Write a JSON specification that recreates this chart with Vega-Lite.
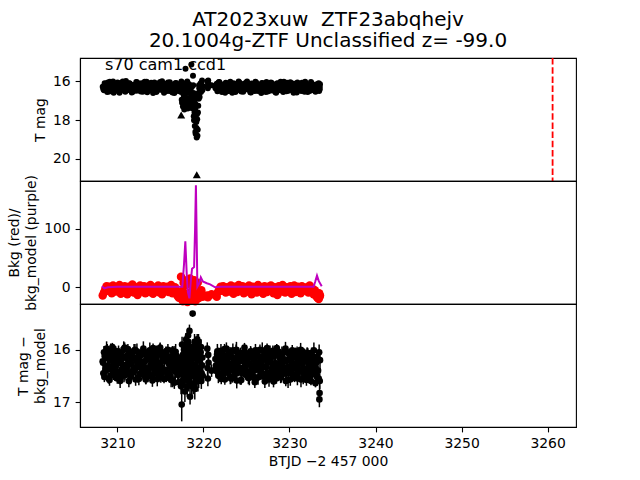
{
"$schema": "https://vega.github.io/schema/vega-lite/v6.json",
"padding": {"left": 7, "top": 9, "right": 5, "bottom": 5},
"spacing": 0,
"bounds": "flush",
"config": {
 "font": "DejaVu Sans",
 "view": {"stroke": "black", "strokeWidth": 1.1},
 "axis": {"labelFont": "DejaVu Sans", "titleFont": "DejaVu Sans", "labelFontSize": 13.9, "titleFontSize": 13.9, "titleFontWeight": "normal", "labelColor": "black", "titleColor": "black", "tickColor": "black", "domainColor": "black", "domainWidth": 1.1, "tickWidth": 1.1, "tickSize": 4.9, "labelPadding": 4.9, "titlePadding": 5, "grid": false, "labelFlush": false, "labelOverlap": false, "titleLineHeight": 17}
},
"datasets": {
 "lc": [
  {"t":3208.30,"m":16.28,"d":16.22,"e":0.09,"b":-14},
  {"t":3208.45,"m":16.45,"d":16.05,"e":0.12,"b":-9},
  {"t":3208.60,"m":16.12,"d":16.40,"e":0.10,"b":-3},
  {"t":3208.75,"m":16.36,"d":15.98,"e":0.14,"b":2},
  {"t":3208.90,"m":16.05,"d":16.31,"e":0.08,"b":-6},
  {"t":3209.05,"m":16.52,"d":16.15,"e":0.11,"b":1},
  {"t":3209.20,"m":16.21,"d":16.50,"e":0.13,"b":-4},
  {"t":3209.35,"m":16.40,"d":16.08,"e":0.10,"b":-10},
  {"t":3209.50,"m":16.00,"d":16.36,"e":0.12,"b":3},
  {"t":3209.65,"m":16.33,"d":16.19,"e":0.09,"b":-2},
  {"t":3209.80,"m":16.48,"d":16.02,"e":0.09,"b":-7},
  {"t":3209.95,"m":16.15,"d":16.45,"e":0.12,"b":0},
  {"t":3210.10,"m":16.27,"d":16.26,"e":0.10,"b":-5},
  {"t":3210.25,"m":16.58,"d":16.11,"e":0.14,"b":4},
  {"t":3210.40,"m":16.08,"d":16.53,"e":0.08,"b":-11},
  {"t":3210.55,"m":16.37,"d":16.17,"e":0.11,"b":-1},
  {"t":3210.70,"m":16.22,"d":16.34,"e":0.13,"b":-8},
  {"t":3210.85,"m":16.50,"d":15.96,"e":0.10,"b":2},
  {"t":3211.00,"m":15.98,"d":16.29,"e":0.12,"b":-3},
  {"t":3211.15,"m":16.30,"d":16.42,"e":0.09,"b":-12},
  {"t":3211.30,"m":16.43,"d":16.07,"e":0.09,"b":1},
  {"t":3211.45,"m":16.11,"d":16.24,"e":0.12,"b":-6},
  {"t":3211.60,"m":16.26,"d":16.48,"e":0.10,"b":-2},
  {"t":3211.75,"m":16.55,"d":16.13,"e":0.14,"b":5},
  {"t":3211.90,"m":16.18,"d":16.38,"e":0.08,"b":-9},
  {"t":3212.05,"m":16.39,"d":16.00,"e":0.11,"b":-4},
  {"t":3212.20,"m":16.03,"d":16.33,"e":0.13,"b":0},
  {"t":3212.35,"m":16.47,"d":16.20,"e":0.10,"b":-13},
  {"t":3212.50,"m":16.24,"d":16.56,"e":0.12,"b":-1},
  {"t":3212.65,"m":16.34,"d":16.10,"e":0.09,"b":3},
  {"t":3212.80,"m":16.09,"d":16.27,"e":0.09,"b":-7},
  {"t":3212.95,"m":16.53,"d":16.43,"e":0.12,"b":-3},
  {"t":3213.10,"m":16.19,"d":16.04,"e":0.10,"b":2},
  {"t":3213.25,"m":16.41,"d":16.35,"e":0.14,"b":-10},
  {"t":3213.40,"m":16.01,"d":16.18,"e":0.08,"b":-5},
  {"t":3213.55,"m":16.29,"d":16.51,"e":0.11,"b":1},
  {"t":3213.70,"m":16.46,"d":16.09,"e":0.13,"b":-8},
  {"t":3213.85,"m":16.14,"d":16.30,"e":0.10,"b":4},
  {"t":3214.00,"m":16.35,"d":16.23,"e":0.12,"b":-2},
  {"t":3214.15,"m":16.60,"d":15.97,"e":0.09,"b":-11},
  {"t":3214.30,"m":16.06,"d":16.46,"e":0.09,"b":-4},
  {"t":3214.45,"m":16.31,"d":16.14,"e":0.12,"b":0},
  {"t":3214.60,"m":16.49,"d":16.37,"e":0.10,"b":-6},
  {"t":3214.75,"m":16.17,"d":16.06,"e":0.14,"b":3},
  {"t":3214.90,"m":16.25,"d":16.28,"e":0.08,"b":-9},
  {"t":3215.05,"m":16.42,"d":16.52,"e":0.11,"b":-1},
  {"t":3215.20,"m":15.99,"d":16.12,"e":0.13,"b":-12},
  {"t":3215.35,"m":16.38,"d":16.39,"e":0.10,"b":2},
  {"t":3215.50,"m":16.13,"d":16.21,"e":0.12,"b":-5},
  {"t":3215.65,"m":16.51,"d":16.03,"e":0.09,"b":-3},
  {"t":3215.80,"m":16.23,"d":16.44,"e":0.09,"b":1},
  {"t":3215.95,"m":16.44,"d":16.16,"e":0.12,"b":-8},
  {"t":3216.10,"m":16.04,"d":16.32,"e":0.10,"b":-2},
  {"t":3216.25,"m":16.32,"d":16.58,"e":0.14,"b":4},
  {"t":3216.40,"m":16.57,"d":16.01,"e":0.08,"b":-10},
  {"t":3216.55,"m":16.16,"d":16.25,"e":0.11,"b":-4},
  {"t":3216.70,"m":16.37,"d":16.41,"e":0.13,"b":0},
  {"t":3216.85,"m":16.10,"d":16.11,"e":0.10,"b":-7},
  {"t":3217.00,"m":16.45,"d":16.34,"e":0.12,"b":-15},
  {"t":3217.15,"m":16.27,"d":16.62,"e":0.09,"b":-18},
  {"t":3217.30,"m":16.20,"d":16.19,"e":0.09,"b":-12},
  {"t":3217.40,"m":16.55,"d":16.70,"e":0.15,"b":18},
  {"t":3217.48,"m":16.95,"d":17.05,"e":0.32,"b":-20},
  {"t":3217.55,"m":16.25,"d":16.35,"e":0.12,"b":-6},
  {"t":3217.62,"m":17.30,"d":16.10,"e":0.15,"b":-24},
  {"t":3217.70,"m":16.70,"d":16.55,"e":0.18,"b":8},
  {"t":3217.78,"m":17.45,"d":15.95,"e":0.15,"b":-14},
  {"t":3217.85,"m":16.40,"d":16.80,"e":0.20,"b":-22},
  {"t":3217.92,"m":15.35,"d":16.25,"e":0.12,"b":4},
  {"t":3218.00,"m":16.85,"d":15.80,"e":0.12,"b":-18},
  {"t":3218.08,"m":17.15,"d":16.40,"e":0.18,"b":12},
  {"t":3218.15,"m":16.30,"d":16.00,"e":0.15,"b":-25},
  {"t":3218.22,"m":16.60,"d":15.73,"e":0.15,"b":-10},
  {"t":3218.30,"m":17.20,"d":16.60,"e":0.20,"b":6},
  {"t":3218.38,"m":16.90,"d":15.64,"e":0.12,"b":-20},
  {"t":3218.45,"m":16.45,"d":16.90,"e":0.15,"b":15},
  {"t":3218.52,"m":17.00,"d":16.20,"e":0.15,"b":-8},
  {"t":3218.60,"m":15.13,"d":16.50,"e":0.18,"b":-16},
  {"t":3218.67,"m":16.75,"d":16.05,"e":0.15,"b":10},
  {"t":3218.75,"m":17.40,"d":15.31,"e":0.05,"b":-22},
  {"t":3218.82,"m":16.20,"d":16.65,"e":0.20,"b":-4},
  {"t":3218.88,"m":17.80,"d":16.30,"e":0.15,"b":-18},
  {"t":3218.94,"m":17.10,"d":16.06,"e":0.12,"b":12},
  {"t":3219.00,"m":18.30,"d":16.75,"e":0.20,"b":-12},
  {"t":3219.05,"m":17.50,"d":15.90,"e":0.12,"b":-24},
  {"t":3219.10,"m":18.70,"d":16.45,"e":0.15,"b":3},
  {"t":3219.15,"m":16.70,"d":16.15,"e":0.12,"b":-17},
  {"t":3219.18,"m":18.10,"d":16.35,"e":0.15,"b":-9},
  {"t":3219.22,"m":18.90,"d":16.60,"e":0.20,"b":-8},
  {"t":3219.25,"m":17.70,"d":16.10,"e":0.12,"b":-15},
  {"t":3219.28,"m":17.95,"d":15.80,"e":0.10,"b":-20},
  {"t":3219.34,"m":18.50,"d":16.35,"e":0.15,"b":8},
  {"t":3219.40,"m":17.25,"d":16.00,"e":0.15,"b":-14},
  {"t":3219.46,"m":16.90,"d":16.55,"e":0.18,"b":-6},
  {"t":3219.52,"m":16.35,"d":16.20,"e":0.15,"b":-18},
  {"t":3219.60,"m":16.55,"d":16.40,"e":0.15,"b":-10},
  {"t":3219.68,"m":16.10,"d":16.05,"e":0.12,"b":-15},
  {"t":3219.76,"m":16.40,"d":16.60,"e":0.15,"b":-5},
  {"t":3219.84,"m":15.95,"d":16.30,"e":0.12,"b":-12},
  {"t":3219.92,"m":16.25,"d":16.50,"e":0.15,"b":-16},
  {"t":3220.45,"m":16.00,"d":15.98,"e":0.12,"b":-14},
  {"t":3220.52,"m":16.35,"d":16.55,"e":0.15,"b":-17},
  {"t":3220.60,"m":16.15,"d":16.25,"e":0.12,"b":-15},
  {"t":3220.95,"m":16.20,"d":16.40,"e":0.12,"b":-12},
  {"t":3221.40,"m":16.35,"d":16.18,"e":0.09,"b":-13},
  {"t":3221.55,"m":16.12,"d":16.41,"e":0.12,"b":-16},
  {"t":3221.70,"m":16.47,"d":16.06,"e":0.10,"b":-8},
  {"t":3221.85,"m":16.03,"d":16.33,"e":0.14,"b":-3},
  {"t":3222.00,"m":16.28,"d":16.52,"e":0.08,"b":1},
  {"t":3222.15,"m":16.54,"d":16.12,"e":0.11,"b":-6},
  {"t":3222.30,"m":16.18,"d":16.27,"e":0.13,"b":2},
  {"t":3222.45,"m":16.40,"d":15.99,"e":0.10,"b":-4},
  {"t":3222.60,"m":16.07,"d":16.44,"e":0.12,"b":-9},
  {"t":3222.75,"m":16.31,"d":16.21,"e":0.09,"b":0},
  {"t":3222.90,"m":16.49,"d":16.08,"e":0.09,"b":-2},
  {"t":3223.05,"m":16.14,"d":16.36,"e":0.12,"b":-7},
  {"t":3223.20,"m":16.25,"d":16.55,"e":0.10,"b":3},
  {"t":3223.35,"m":16.58,"d":16.15,"e":0.14,"b":-5},
  {"t":3223.50,"m":16.10,"d":16.30,"e":0.08,"b":-11},
  {"t":3223.65,"m":16.37,"d":16.47,"e":0.11,"b":1},
  {"t":3223.80,"m":16.21,"d":16.03,"e":0.13,"b":-3},
  {"t":3223.95,"m":16.44,"d":16.25,"e":0.10,"b":-8},
  {"t":3224.10,"m":16.00,"d":16.39,"e":0.12,"b":4},
  {"t":3224.25,"m":16.33,"d":16.11,"e":0.09,"b":-1},
  {"t":3224.40,"m":16.52,"d":16.58,"e":0.09,"b":-6},
  {"t":3224.55,"m":16.16,"d":16.19,"e":0.12,"b":2},
  {"t":3224.70,"m":16.29,"d":16.34,"e":0.10,"b":-10},
  {"t":3224.85,"m":16.42,"d":16.05,"e":0.14,"b":-4},
  {"t":3225.00,"m":16.05,"d":16.43,"e":0.08,"b":0},
  {"t":3225.15,"m":16.38,"d":16.23,"e":0.11,"b":-7},
  {"t":3225.30,"m":16.23,"d":16.50,"e":0.13,"b":3},
  {"t":3225.45,"m":16.56,"d":16.09,"e":0.10,"b":-2},
  {"t":3225.60,"m":16.11,"d":16.31,"e":0.12,"b":-12},
  {"t":3225.75,"m":16.34,"d":16.16,"e":0.09,"b":1},
  {"t":3225.90,"m":16.46,"d":16.40,"e":0.09,"b":-5},
  {"t":3226.05,"m":16.02,"d":16.01,"e":0.12,"b":-1},
  {"t":3226.20,"m":16.27,"d":16.28,"e":0.10,"b":-9},
  {"t":3226.35,"m":16.50,"d":16.53,"e":0.14,"b":4},
  {"t":3226.50,"m":16.19,"d":16.13,"e":0.08,"b":-3},
  {"t":3226.65,"m":16.36,"d":16.37,"e":0.11,"b":-7},
  {"t":3226.80,"m":16.08,"d":16.22,"e":0.13,"b":0},
  {"t":3226.95,"m":16.43,"d":16.46,"e":0.10,"b":-11},
  {"t":3227.10,"m":16.24,"d":16.07,"e":0.12,"b":2},
  {"t":3227.25,"m":16.55,"d":16.32,"e":0.09,"b":-4},
  {"t":3227.40,"m":16.13,"d":15.97,"e":0.09,"b":-8},
  {"t":3227.55,"m":16.32,"d":16.24,"e":0.12,"b":1},
  {"t":3227.70,"m":16.48,"d":16.49,"e":0.10,"b":-6},
  {"t":3227.85,"m":16.06,"d":16.14,"e":0.14,"b":3},
  {"t":3228.00,"m":16.30,"d":16.35,"e":0.08,"b":-2},
  {"t":3228.15,"m":16.41,"d":16.61,"e":0.11,"b":-10},
  {"t":3228.30,"m":16.17,"d":16.10,"e":0.13,"b":0},
  {"t":3228.45,"m":16.59,"d":16.29,"e":0.10,"b":-5},
  {"t":3228.60,"m":16.09,"d":16.42,"e":0.12,"b":-13},
  {"t":3228.75,"m":16.26,"d":16.04,"e":0.09,"b":2},
  {"t":3228.90,"m":16.45,"d":16.26,"e":0.09,"b":-3},
  {"t":3229.05,"m":16.15,"d":16.51,"e":0.12,"b":-7},
  {"t":3229.20,"m":16.38,"d":16.17,"e":0.10,"b":4},
  {"t":3229.35,"m":16.01,"d":16.38,"e":0.14,"b":-1},
  {"t":3229.50,"m":16.33,"d":16.02,"e":0.08,"b":-9},
  {"t":3229.65,"m":16.51,"d":16.45,"e":0.11,"b":0},
  {"t":3229.80,"m":16.20,"d":16.20,"e":0.13,"b":-4},
  {"t":3229.95,"m":16.39,"d":16.33,"e":0.10,"b":-6},
  {"t":3230.10,"m":16.04,"d":16.57,"e":0.12,"b":2},
  {"t":3230.25,"m":16.28,"d":16.12,"e":0.09,"b":-11},
  {"t":3230.40,"m":16.47,"d":16.30,"e":0.09,"b":-2},
  {"t":3230.55,"m":16.12,"d":16.48,"e":0.12,"b":3},
  {"t":3230.70,"m":16.35,"d":16.06,"e":0.10,"b":-8},
  {"t":3230.85,"m":16.57,"d":16.36,"e":0.14,"b":-5},
  {"t":3231.00,"m":16.18,"d":16.23,"e":0.08,"b":1},
  {"t":3231.15,"m":16.25,"d":16.41,"e":0.11,"b":-3},
  {"t":3231.30,"m":16.43,"d":16.00,"e":0.13,"b":-10},
  {"t":3231.45,"m":16.07,"d":16.27,"e":0.10,"b":2},
  {"t":3231.60,"m":16.31,"d":16.54,"e":0.12,"b":-6},
  {"t":3231.75,"m":16.53,"d":16.15,"e":0.09,"b":-1},
  {"t":3231.90,"m":16.14,"d":16.39,"e":0.09,"b":-4},
  {"t":3232.05,"m":16.37,"d":16.08,"e":0.12,"b":0},
  {"t":3232.20,"m":16.22,"d":16.44,"e":0.10,"b":-9},
  {"t":3232.35,"m":16.49,"d":16.21,"e":0.14,"b":3},
  {"t":3232.50,"m":16.03,"d":16.60,"e":0.08,"b":-7},
  {"t":3232.65,"m":16.34,"d":16.13,"e":0.11,"b":-2},
  {"t":3232.80,"m":16.45,"d":16.34,"e":0.13,"b":-12},
  {"t":3232.95,"m":16.19,"d":16.47,"e":0.10,"b":-5},
  {"t":3233.10,"m":16.29,"d":16.25,"e":0.12,"b":-15},
  {"t":3233.25,"m":16.40,"d":16.40,"e":0.09,"b":-18},
  {"t":3233.40,"m":16.10,"d":16.55,"e":0.09,"b":-20},
  {"t":3233.45,"m":16.50,"d":16.05,"e":0.15,"b":-10},
  {"t":3233.50,"m":16.30,"d":16.83,"e":0.15,"b":-16},
  {"t":3233.55,"m":16.15,"d":16.20,"e":0.20,"b":-14}
 ],
 "lc2": [
  {"t":3208.375,"m":16.40,"d":16.45,"e":0.11},
  {"t":3208.525,"m":16.10,"d":16.12,"e":0.14},
  {"t":3208.675,"m":16.31,"d":16.33,"e":0.09},
  {"t":3208.825,"m":16.55,"d":16.02,"e":0.13},
  {"t":3208.975,"m":16.20,"d":16.55,"e":0.10},
  {"t":3209.125,"m":16.02,"d":16.20,"e":0.12},
  {"t":3209.275,"m":16.46,"d":16.38,"e":0.15},
  {"t":3209.425,"m":16.27,"d":15.95,"e":0.08},
  {"t":3209.575,"m":16.59,"d":16.27,"e":0.12},
  {"t":3209.725,"m":16.13,"d":16.50,"e":0.10},
  {"t":3209.875,"m":16.36,"d":16.09,"e":0.11},
  {"t":3210.025,"m":16.06,"d":16.42,"e":0.14},
  {"t":3210.175,"m":16.50,"d":16.18,"e":0.09},
  {"t":3210.325,"m":16.22,"d":16.60,"e":0.13},
  {"t":3210.475,"m":16.41,"d":16.05,"e":0.10},
  {"t":3210.625,"m":16.00,"d":16.31,"e":0.12},
  {"t":3210.775,"m":16.29,"d":16.47,"e":0.15},
  {"t":3210.925,"m":16.53,"d":16.14,"e":0.08},
  {"t":3211.075,"m":16.16,"d":16.36,"e":0.12},
  {"t":3211.225,"m":16.44,"d":15.99,"e":0.10},
  {"t":3211.375,"m":16.09,"d":16.24,"e":0.11},
  {"t":3211.525,"m":16.34,"d":16.52,"e":0.14},
  {"t":3211.675,"m":16.57,"d":16.07,"e":0.09},
  {"t":3211.825,"m":16.19,"d":16.40,"e":0.13},
  {"t":3211.975,"m":16.26,"d":16.16,"e":0.10},
  {"t":3212.125,"m":16.48,"d":16.57,"e":0.12},
  {"t":3212.275,"m":16.04,"d":16.03,"e":0.15},
  {"t":3212.425,"m":16.38,"d":16.29,"e":0.08},
  {"t":3212.575,"m":16.12,"d":16.46,"e":0.12},
  {"t":3212.725,"m":16.52,"d":16.11,"e":0.10},
  {"t":3212.875,"m":16.23,"d":16.35,"e":0.11},
  {"t":3213.025,"m":16.45,"d":15.98,"e":0.14},
  {"t":3213.175,"m":16.01,"d":16.22,"e":0.09},
  {"t":3213.325,"m":16.32,"d":16.53,"e":0.13},
  {"t":3213.475,"m":16.56,"d":16.13,"e":0.10},
  {"t":3213.625,"m":16.15,"d":16.44,"e":0.12},
  {"t":3213.775,"m":16.39,"d":16.01,"e":0.15},
  {"t":3213.925,"m":16.07,"d":16.32,"e":0.08},
  {"t":3214.075,"m":16.47,"d":16.59,"e":0.12},
  {"t":3214.225,"m":16.21,"d":16.17,"e":0.10},
  {"t":3214.375,"m":16.30,"d":16.39,"e":0.11},
  {"t":3214.525,"m":16.54,"d":16.06,"e":0.14},
  {"t":3214.675,"m":16.11,"d":16.26,"e":0.09},
  {"t":3214.825,"m":16.37,"d":16.49,"e":0.13},
  {"t":3214.975,"m":16.03,"d":15.96,"e":0.10},
  {"t":3215.125,"m":16.43,"d":16.34,"e":0.12},
  {"t":3215.275,"m":16.25,"d":16.21,"e":0.15},
  {"t":3215.425,"m":16.58,"d":16.56,"e":0.08},
  {"t":3215.575,"m":16.14,"d":16.10,"e":0.12},
  {"t":3215.725,"m":16.35,"d":16.43,"e":0.10},
  {"t":3215.875,"m":16.05,"d":16.00,"e":0.11},
  {"t":3216.025,"m":16.49,"d":16.28,"e":0.14},
  {"t":3216.175,"m":16.18,"d":16.51,"e":0.09},
  {"t":3216.325,"m":16.42,"d":16.15,"e":0.13},
  {"t":3216.475,"m":16.28,"d":16.37,"e":0.10},
  {"t":3216.625,"m":16.60,"d":16.63,"e":0.12},
  {"t":3216.775,"m":16.08,"d":16.04,"e":0.15},
  {"t":3216.925,"m":16.33,"d":16.30,"e":0.08},
  {"t":3217.075,"m":16.50,"d":16.48,"e":0.12},
  {"t":3217.225,"m":16.24,"d":16.19,"e":0.10},
  {"t":3217.44,"m":16.00,"d":16.40,"e":0.20},
  {"t":3217.52,"m":17.10,"d":15.90,"e":0.15},
  {"t":3217.58,"m":16.50,"d":16.60,"e":0.20},
  {"t":3217.66,"m":16.10,"d":16.30,"e":0.15},
  {"t":3217.74,"m":17.00,"d":16.00,"e":0.15},
  {"t":3217.82,"m":16.80,"d":16.50,"e":0.20},
  {"t":3217.88,"m":16.20,"d":16.10,"e":0.15},
  {"t":3217.96,"m":17.30,"d":16.45,"e":0.20},
  {"t":3218.04,"m":16.50,"d":16.20,"e":0.15},
  {"t":3218.12,"m":16.00,"d":16.70,"e":0.20},
  {"t":3218.18,"m":17.40,"d":15.85,"e":0.15},
  {"t":3218.26,"m":16.90,"d":16.30,"e":0.15},
  {"t":3218.34,"m":16.15,"d":16.10,"e":0.20},
  {"t":3218.42,"m":17.20,"d":16.50,"e":0.15},
  {"t":3218.48,"m":16.60,"d":15.95,"e":0.15},
  {"t":3218.56,"m":17.35,"d":16.35,"e":0.20},
  {"t":3218.64,"m":16.30,"d":16.70,"e":0.20},
  {"t":3218.71,"m":16.85,"d":16.00,"e":0.15},
  {"t":3218.79,"m":15.70,"d":16.40,"e":0.15},
  {"t":3218.86,"m":16.60,"d":16.15,"e":0.15},
  {"t":3218.91,"m":18.00,"d":16.50,"e":0.20},
  {"t":3218.97,"m":17.60,"d":15.85,"e":0.15},
  {"t":3219.02,"m":16.90,"d":16.30,"e":0.20},
  {"t":3219.07,"m":18.60,"d":16.05,"e":0.15},
  {"t":3219.12,"m":17.30,"d":16.60,"e":0.20},
  {"t":3219.20,"m":18.40,"d":15.95,"e":0.15},
  {"t":3219.27,"m":16.80,"d":16.45,"e":0.20},
  {"t":3219.31,"m":18.80,"d":16.20,"e":0.15},
  {"t":3219.37,"m":17.60,"d":16.60,"e":0.20},
  {"t":3219.43,"m":16.60,"d":15.85,"e":0.15},
  {"t":3219.49,"m":16.20,"d":16.40,"e":0.20},
  {"t":3219.56,"m":16.80,"d":16.10,"e":0.15},
  {"t":3219.64,"m":16.30,"d":16.50,"e":0.15},
  {"t":3219.72,"m":16.55,"d":15.95,"e":0.15},
  {"t":3219.80,"m":16.20,"d":16.45,"e":0.15},
  {"t":3219.88,"m":16.45,"d":16.15,"e":0.15},
  {"t":3220.48,"m":16.25,"d":16.35,"e":0.15},
  {"t":3220.56,"m":15.95,"d":16.10,"e":0.15},
  {"t":3221.475,"m":16.22,"d":16.30,"e":0.11},
  {"t":3221.625,"m":16.51,"d":16.03,"e":0.14},
  {"t":3221.775,"m":16.04,"d":16.48,"e":0.09},
  {"t":3221.925,"m":16.36,"d":16.17,"e":0.13},
  {"t":3222.075,"m":16.15,"d":16.56,"e":0.10},
  {"t":3222.225,"m":16.44,"d":16.09,"e":0.12},
  {"t":3222.375,"m":16.27,"d":16.37,"e":0.15},
  {"t":3222.525,"m":16.58,"d":16.24,"e":0.08},
  {"t":3222.675,"m":16.09,"d":15.98,"e":0.12},
  {"t":3222.825,"m":16.33,"d":16.43,"e":0.10},
  {"t":3222.975,"m":16.48,"d":16.14,"e":0.11},
  {"t":3223.125,"m":16.02,"d":16.52,"e":0.14},
  {"t":3223.275,"m":16.25,"d":16.27,"e":0.09},
  {"t":3223.425,"m":16.40,"d":16.01,"e":0.13},
  {"t":3223.575,"m":16.13,"d":16.40,"e":0.10},
  {"t":3223.725,"m":16.55,"d":16.20,"e":0.12},
  {"t":3223.875,"m":16.19,"d":16.59,"e":0.15},
  {"t":3224.025,"m":16.31,"d":16.11,"e":0.08},
  {"t":3224.175,"m":16.06,"d":16.34,"e":0.12},
  {"t":3224.325,"m":16.46,"d":16.06,"e":0.10},
  {"t":3224.475,"m":16.28,"d":16.45,"e":0.11},
  {"t":3224.625,"m":16.53,"d":16.22,"e":0.14},
  {"t":3224.775,"m":16.11,"d":15.96,"e":0.09},
  {"t":3224.925,"m":16.38,"d":16.38,"e":0.13},
  {"t":3225.075,"m":16.00,"d":16.13,"e":0.10},
  {"t":3225.225,"m":16.42,"d":16.54,"e":0.12},
  {"t":3225.375,"m":16.20,"d":16.29,"e":0.15},
  {"t":3225.525,"m":16.57,"d":16.04,"e":0.08},
  {"t":3225.675,"m":16.14,"d":16.47,"e":0.12},
  {"t":3225.825,"m":16.34,"d":16.18,"e":0.10},
  {"t":3225.975,"m":16.49,"d":16.62,"e":0.11},
  {"t":3226.125,"m":16.05,"d":16.10,"e":0.14},
  {"t":3226.275,"m":16.30,"d":16.35,"e":0.09},
  {"t":3226.425,"m":16.45,"d":16.25,"e":0.13},
  {"t":3226.575,"m":16.17,"d":16.00,"e":0.10},
  {"t":3226.725,"m":16.60,"d":16.44,"e":0.12},
  {"t":3226.875,"m":16.10,"d":16.16,"e":0.15},
  {"t":3227.025,"m":16.26,"d":16.51,"e":0.08},
  {"t":3227.175,"m":16.39,"d":16.07,"e":0.12},
  {"t":3227.325,"m":16.03,"d":16.32,"e":0.10},
  {"t":3227.475,"m":16.52,"d":16.21,"e":0.11},
  {"t":3227.625,"m":16.21,"d":16.57,"e":0.14},
  {"t":3227.775,"m":16.35,"d":16.12,"e":0.09},
  {"t":3227.925,"m":16.08,"d":16.39,"e":0.13},
  {"t":3228.075,"m":16.47,"d":16.02,"e":0.10},
  {"t":3228.225,"m":16.24,"d":16.46,"e":0.12},
  {"t":3228.375,"m":16.56,"d":16.26,"e":0.15},
  {"t":3228.525,"m":16.12,"d":15.97,"e":0.08},
  {"t":3228.675,"m":16.32,"d":16.41,"e":0.12},
  {"t":3228.825,"m":16.43,"d":16.15,"e":0.10},
  {"t":3228.975,"m":16.01,"d":16.53,"e":0.11},
  {"t":3229.125,"m":16.29,"d":16.08,"e":0.14},
  {"t":3229.275,"m":16.54,"d":16.33,"e":0.09},
  {"t":3229.425,"m":16.16,"d":16.23,"e":0.13},
  {"t":3229.575,"m":16.37,"d":16.60,"e":0.10},
  {"t":3229.725,"m":16.07,"d":16.05,"e":0.12},
  {"t":3229.875,"m":16.48,"d":16.42,"e":0.15},
  {"t":3230.025,"m":16.23,"d":16.19,"e":0.08},
  {"t":3230.175,"m":16.41,"d":16.36,"e":0.12},
  {"t":3230.325,"m":16.11,"d":16.01,"e":0.10},
  {"t":3230.475,"m":16.59,"d":16.49,"e":0.11},
  {"t":3230.625,"m":16.18,"d":16.14,"e":0.14},
  {"t":3230.775,"m":16.34,"d":16.28,"e":0.09},
  {"t":3230.925,"m":16.05,"d":16.55,"e":0.13},
  {"t":3231.075,"m":16.45,"d":16.09,"e":0.10},
  {"t":3231.225,"m":16.27,"d":16.38,"e":0.12},
  {"t":3231.375,"m":16.50,"d":16.22,"e":0.15},
  {"t":3231.525,"m":16.13,"d":16.03,"e":0.08},
  {"t":3231.675,"m":16.38,"d":16.45,"e":0.12},
  {"t":3231.825,"m":16.02,"d":16.17,"e":0.10},
  {"t":3231.975,"m":16.31,"d":16.58,"e":0.11},
  {"t":3232.125,"m":16.55,"d":16.11,"e":0.14},
  {"t":3232.275,"m":16.20,"d":16.31,"e":0.09},
  {"t":3232.425,"m":16.42,"d":16.47,"e":0.13},
  {"t":3232.575,"m":16.09,"d":16.06,"e":0.10},
  {"t":3232.725,"m":16.36,"d":16.35,"e":0.12},
  {"t":3232.875,"m":16.25,"d":16.24,"e":0.15},
  {"t":3233.025,"m":16.53,"d":16.64,"e":0.08},
  {"t":3233.175,"m":16.15,"d":16.13,"e":0.12},
  {"t":3233.325,"m":16.44,"d":16.40,"e":0.10},
  {"t":3233.48,"m":16.25,"d":16.95,"e":0.15},
  {"t":3233.52,"m":16.40,"d":16.60,"e":0.15}
 ],
 "lc3": [
  {"t":3208.34,"d":16.25,"e":0.12},{"t":3208.49,"d":16.52,"e":0.10},{"t":3208.64,"d":16.08,"e":0.14},{"t":3208.79,"d":16.39,"e":0.09},{"t":3208.94,"d":16.17,"e":0.13},
  {"t":3209.09,"d":16.58,"e":0.11},{"t":3209.24,"d":16.03,"e":0.15},{"t":3209.39,"d":16.33,"e":0.10},{"t":3209.54,"d":16.46,"e":0.12},{"t":3209.69,"d":16.12,"e":0.08},
  {"t":3209.84,"d":16.29,"e":0.12},{"t":3209.99,"d":16.55,"e":0.10},{"t":3210.14,"d":16.06,"e":0.14},{"t":3210.29,"d":16.42,"e":0.09},{"t":3210.44,"d":16.20,"e":0.13},
  {"t":3210.59,"d":16.36,"e":0.11},{"t":3210.74,"d":15.99,"e":0.15},{"t":3210.89,"d":16.49,"e":0.10},{"t":3211.04,"d":16.14,"e":0.12},{"t":3211.19,"d":16.31,"e":0.08},
  {"t":3211.34,"d":16.60,"e":0.12},{"t":3211.49,"d":16.10,"e":0.10},{"t":3211.64,"d":16.27,"e":0.14},{"t":3211.79,"d":16.44,"e":0.09},{"t":3211.94,"d":16.02,"e":0.13},
  {"t":3212.09,"d":16.37,"e":0.11},{"t":3212.24,"d":16.22,"e":0.15},{"t":3212.39,"d":16.53,"e":0.10},{"t":3212.54,"d":16.16,"e":0.12},{"t":3212.69,"d":16.34,"e":0.08},
  {"t":3212.84,"d":16.05,"e":0.12},{"t":3212.99,"d":16.47,"e":0.10},{"t":3213.14,"d":16.24,"e":0.14},{"t":3213.29,"d":16.57,"e":0.09},{"t":3213.44,"d":16.11,"e":0.13},
  {"t":3213.59,"d":16.40,"e":0.11},{"t":3213.74,"d":16.19,"e":0.15},{"t":3213.89,"d":16.30,"e":0.10},{"t":3214.04,"d":16.50,"e":0.12},{"t":3214.19,"d":16.07,"e":0.08},
  {"t":3214.34,"d":16.35,"e":0.12},{"t":3214.49,"d":16.15,"e":0.10},{"t":3214.64,"d":16.56,"e":0.14},{"t":3214.79,"d":16.26,"e":0.09},{"t":3214.94,"d":16.01,"e":0.13},
  {"t":3215.09,"d":16.43,"e":0.11},{"t":3215.24,"d":16.18,"e":0.15},{"t":3215.39,"d":16.38,"e":0.10},{"t":3215.54,"d":16.09,"e":0.12},{"t":3215.69,"d":16.54,"e":0.08},
  {"t":3215.84,"d":16.23,"e":0.12},{"t":3215.99,"d":16.45,"e":0.10},{"t":3216.14,"d":16.13,"e":0.14},{"t":3216.29,"d":16.32,"e":0.09},{"t":3216.44,"d":16.59,"e":0.13},
  {"t":3216.59,"d":16.04,"e":0.11},{"t":3216.74,"d":16.41,"e":0.15},{"t":3216.89,"d":16.21,"e":0.10},{"t":3217.04,"d":16.48,"e":0.12},{"t":3217.19,"d":16.28,"e":0.08},
  {"t":3221.44,"d":16.36,"e":0.12},{"t":3221.59,"d":16.09,"e":0.10},{"t":3221.74,"d":16.50,"e":0.14},{"t":3221.89,"d":16.21,"e":0.09},{"t":3222.04,"d":16.02,"e":0.13},
  {"t":3222.19,"d":16.44,"e":0.11},{"t":3222.34,"d":16.16,"e":0.15},{"t":3222.49,"d":16.57,"e":0.10},{"t":3222.64,"d":16.27,"e":0.12},{"t":3222.79,"d":16.11,"e":0.08},
  {"t":3222.94,"d":16.40,"e":0.12},{"t":3223.09,"d":16.05,"e":0.10},{"t":3223.24,"d":16.31,"e":0.14},{"t":3223.39,"d":16.54,"e":0.09},{"t":3223.54,"d":16.19,"e":0.13},
  {"t":3223.69,"d":16.46,"e":0.11},{"t":3223.84,"d":16.00,"e":0.15},{"t":3223.99,"d":16.34,"e":0.10},{"t":3224.14,"d":16.23,"e":0.12},{"t":3224.29,"d":16.59,"e":0.08},
  {"t":3224.44,"d":16.13,"e":0.12},{"t":3224.59,"d":16.38,"e":0.10},{"t":3224.74,"d":16.07,"e":0.14},{"t":3224.89,"d":16.48,"e":0.09},{"t":3225.04,"d":16.26,"e":0.13},
  {"t":3225.19,"d":16.15,"e":0.11},{"t":3225.34,"d":16.53,"e":0.15},{"t":3225.49,"d":16.03,"e":0.10},{"t":3225.64,"d":16.42,"e":0.12},{"t":3225.79,"d":16.30,"e":0.08},
  {"t":3225.94,"d":16.18,"e":0.12},{"t":3226.09,"d":16.56,"e":0.10},{"t":3226.24,"d":16.10,"e":0.14},{"t":3226.39,"d":16.37,"e":0.09},{"t":3226.54,"d":16.24,"e":0.13},
  {"t":3226.69,"d":16.47,"e":0.11},{"t":3226.84,"d":16.01,"e":0.15},{"t":3226.99,"d":16.33,"e":0.10},{"t":3227.14,"d":16.61,"e":0.12},{"t":3227.29,"d":16.14,"e":0.08},
  {"t":3227.44,"d":16.43,"e":0.12},{"t":3227.59,"d":16.20,"e":0.10},{"t":3227.74,"d":16.06,"e":0.14},{"t":3227.89,"d":16.51,"e":0.09},{"t":3228.04,"d":16.28,"e":0.13},
  {"t":3228.19,"d":16.12,"e":0.11},{"t":3228.34,"d":16.39,"e":0.15},{"t":3228.49,"d":16.55,"e":0.10},{"t":3228.64,"d":16.04,"e":0.12},{"t":3228.79,"d":16.32,"e":0.08},
  {"t":3228.94,"d":16.22,"e":0.12},{"t":3229.09,"d":16.49,"e":0.10},{"t":3229.24,"d":16.17,"e":0.14},{"t":3229.39,"d":16.41,"e":0.09},{"t":3229.54,"d":15.98,"e":0.13},
  {"t":3229.69,"d":16.35,"e":0.11},{"t":3229.84,"d":16.58,"e":0.15},{"t":3229.99,"d":16.08,"e":0.10},{"t":3230.14,"d":16.45,"e":0.12},{"t":3230.29,"d":16.25,"e":0.08},
  {"t":3230.44,"d":16.13,"e":0.12},{"t":3230.59,"d":16.52,"e":0.10},{"t":3230.74,"d":16.29,"e":0.14},{"t":3230.89,"d":16.03,"e":0.09},{"t":3231.04,"d":16.40,"e":0.13},
  {"t":3231.19,"d":16.19,"e":0.11},{"t":3231.34,"d":16.57,"e":0.15},{"t":3231.49,"d":16.10,"e":0.10},{"t":3231.64,"d":16.36,"e":0.12},{"t":3231.79,"d":16.23,"e":0.08},
  {"t":3231.94,"d":16.47,"e":0.12},{"t":3232.09,"d":16.06,"e":0.10},{"t":3232.24,"d":16.33,"e":0.14},{"t":3232.39,"d":16.54,"e":0.09},{"t":3232.54,"d":16.16,"e":0.13},
  {"t":3232.69,"d":16.42,"e":0.11},{"t":3232.84,"d":16.01,"e":0.15},{"t":3232.99,"d":16.30,"e":0.10},{"t":3233.14,"d":16.50,"e":0.12},{"t":3233.29,"d":16.21,"e":0.08}
 ],
 "lim": [
  {"t":3217.42,"m":17.73},
  {"t":3219.23,"m":17.15},
  {"t":3219.23,"m":20.82}
 ],
 "model": [
  {"t":3208.2,"b":2},{"t":3208.5,"b":-2},{"t":3208.9,"b":0},{"t":3210.0,"b":1},{"t":3213.0,"b":1},{"t":3216.0,"b":1},{"t":3217.55,"b":1},{"t":3217.75,"b":40},{"t":3217.9,"b":79},{"t":3218.07,"b":20},{"t":3218.2,"b":-8},{"t":3218.37,"b":-19},{"t":3218.53,"b":10},{"t":3218.68,"b":32},{"t":3218.92,"b":35},{"t":3219.03,"b":98},{"t":3219.13,"b":175},{"t":3219.3,"b":1},{"t":3219.53,"b":7},{"t":3219.7,"b":17},{"t":3219.93,"b":10},{"t":3220.4,"b":7},{"t":3220.78,"b":5},{"t":3221.36,"b":0},{"t":3222.0,"b":1},{"t":3225.0,"b":1},{"t":3228.0,"b":1},{"t":3232.8,"b":1},{"t":3233.0,"b":10},{"t":3233.2,"b":20},{"t":3233.4,"b":11},{"t":3233.75,"b":2}
 ],
 "ref": [{"t":3260.58,"m":14.79,"m2":21.14}],
 "lab": [{"t":3208.56,"m":15.4,"txt":"s70 cam1 ccd1"}]
},
"vconcat": [
 {
  "width": 496, "height": 123,
  "title": {"text": ["AT2023xuw \u00a0ZTF23abqhejv", "20.1004g-ZTF Unclassified z= -99.0"], "fontSize": 20, "font": "DejaVu Sans", "fontWeight": "normal", "color": "black", "anchor": "middle", "frame": "group", "offset": 6, "lineHeight": 21},
  "encoding": {
   "x": {"field": "t", "type": "quantitative", "scale": {"domain": [3205.66, 3263.3], "nice": false, "zero": false}, "axis": null},
   "y": {"field": "m", "type": "quantitative", "scale": {"domain": [14.79, 21.14], "reverse": true, "nice": false, "zero": false}, "axis": {"values": [16, 18, 20], "title": "T mag"}}
  },
  "layer": [
   {"data": {"name": "lc"}, "mark": {"type": "point", "filled": true, "shape": "circle", "size": 36, "color": "black", "opacity": 1}},
   {"data": {"name": "lc2"}, "mark": {"type": "point", "filled": true, "shape": "circle", "size": 36, "color": "black", "opacity": 1}},
   {"data": {"name": "lim"}, "mark": {"type": "point", "filled": true, "shape": "triangle-up", "size": 64, "color": "black", "opacity": 1}},
   {"data": {"name": "ref"}, "mark": {"type": "rule", "color": "#ff0000", "strokeWidth": 1.8, "strokeDash": [6.5, 2.7]}, "encoding": {"y2": {"field": "m2"}}},
   {"data": {"name": "lab"}, "mark": {"type": "text", "align": "left", "baseline": "alphabetic", "fontSize": 16, "font": "DejaVu Sans", "color": "black"}, "encoding": {"text": {"field": "txt"}}}
  ]
 },
 {
  "width": 496, "height": 123,
  "encoding": {
   "x": {"field": "t", "type": "quantitative", "scale": {"domain": [3205.66, 3263.3], "nice": false, "zero": false}, "axis": null},
   "y": {"field": "b", "type": "quantitative", "scale": {"domain": [-28.6, 182.3], "nice": false, "zero": false}, "axis": {"values": [0, 100], "title": ["Bkg (red)/", "bkg_model (purple)"]}}
  },
  "layer": [
   {"data": {"name": "lc"}, "mark": {"type": "point", "filled": true, "shape": "circle", "size": 72, "color": "#ff0000", "opacity": 1}},
   {"data": {"name": "model"}, "mark": {"type": "line", "color": "#bf00bf", "strokeWidth": 2}}
  ]
 },
 {
  "width": 496, "height": 123,
  "encoding": {
   "x": {"field": "t", "type": "quantitative", "scale": {"domain": [3205.66, 3263.3], "nice": false, "zero": false}, "axis": {"values": [3210, 3220, 3230, 3240, 3250, 3260], "format": "d", "title": "BTJD −2 457 000", "titlePadding": 4}},
   "y": {"field": "d", "type": "quantitative", "scale": {"domain": [15.126, 17.478], "reverse": true, "nice": false, "zero": false}, "axis": {"values": [16, 17], "title": ["T mag −", "bkg_model"]}}
  },
  "layer": [
   {"data": {"name": "lc"}, "mark": {"type": "errorbar", "color": "black", "thickness": 1.5}, "encoding": {"yError": {"field": "e"}}},
   {"data": {"name": "lc2"}, "mark": {"type": "errorbar", "color": "black", "thickness": 1.5}, "encoding": {"yError": {"field": "e"}}},
   {"data": {"name": "lc3"}, "mark": {"type": "errorbar", "color": "black", "thickness": 1.5}, "encoding": {"yError": {"field": "e"}}},
   {"data": {"name": "lc"}, "mark": {"type": "point", "filled": true, "shape": "circle", "size": 44, "color": "black", "opacity": 1}},
   {"data": {"name": "lc2"}, "mark": {"type": "point", "filled": true, "shape": "circle", "size": 44, "color": "black", "opacity": 1}},
   {"data": {"name": "lc3"}, "mark": {"type": "point", "filled": true, "shape": "circle", "size": 44, "color": "black", "opacity": 1}}
  ]
 }
]
}
